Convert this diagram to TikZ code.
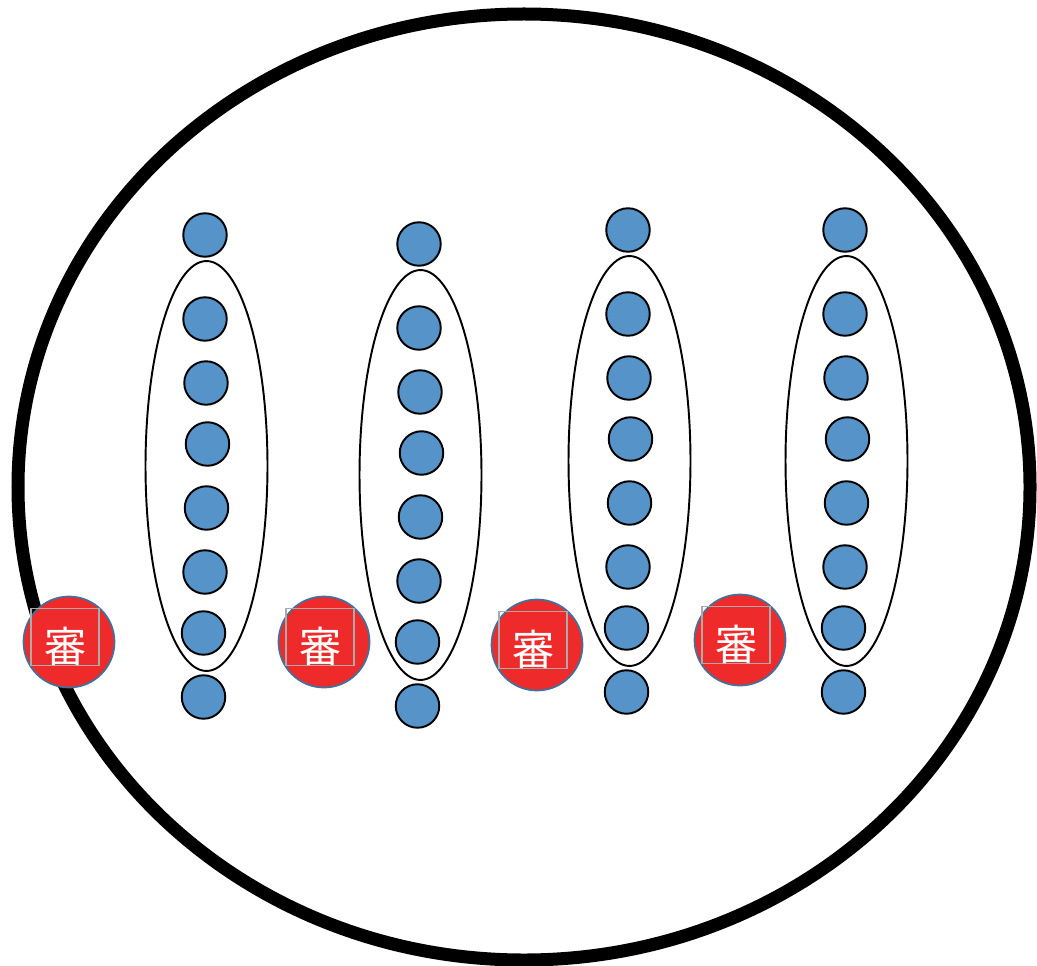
\documentclass[tikz,border=0pt]{standalone}
\usepackage{fontspec}
\newfontfamily\cjk{Noto Sans CJK JP}
\usepackage{tikz}
\usetikzlibrary{shapes.geometric,positioning}
\definecolor{ballblue}{HTML}{5593C8}
\definecolor{judgered}{HTML}{EE2A2A}
\definecolor{rimblue}{HTML}{41719C}
\tikzset{
  ball/.style={circle,draw=black,line width=1.1pt,fill=ballblue,minimum size=0.87cm,inner sep=0pt},
  lane/.style={ellipse,draw=black,line width=1.1pt,minimum width=2.44cm,minimum height=8.2cm,inner sep=0pt},
  judge/.style={circle,draw=rimblue,line width=1pt,fill=judgered,minimum size=1.82cm,inner sep=0pt},
  tagbox/.style={draw=black!33,line width=1pt,minimum width=1.36cm,minimum height=1.14cm,inner sep=0pt},
  tagtext/.style={text=white,font=\cjk\fontsize{24}{24}\selectfont,inner sep=0pt}
}
\begin{document}
\begin{tikzpicture}[x=0.02cm,y=-0.02cm]
  % Canvas
  \useasboundingbox (0,0) rectangle (1037,966);

  % Outer ring
  \draw[line width=7.4pt] (524,487) ellipse [x radius=506,y radius=473];

  % Columns: top ball, lane, six balls inside, bottom ball
  \foreach \c/\cx/\cy in {1/205/235,2/419/244,3/628/230,4/845/230}{
    \node[ball] (top\c) at (\cx,\cy) {};
    \node[lane] (lane\c) at (\cx+1.5,\cy+231) {};
    \foreach \i/\dx/\dy in {1/0/84,2/1/148,3/2.5/209,4/1.5/273,5/0/337,6/-1.5/398}
      \node[ball] (b\c\i) at (\cx+\dx,\cy+\dy) {};
    \node[ball] (bot\c) at (\cx-1.5,\cy+462) {};
  }

  % Referees
  \foreach \j/\jx/\jy in {1/69/642,2/324/642,3/537/645,4/740/640}{
    \node[judge] (judge\j) at (\jx,\jy) {};
    \node[tagbox] (tag\j) at ([shift={(-4,-5)}]judge\j.center) {};
    \node[tagtext] (name\j) at ([shift={(-3.5,4)}]judge\j.center) {審};
  }
\end{tikzpicture}
\end{document}
